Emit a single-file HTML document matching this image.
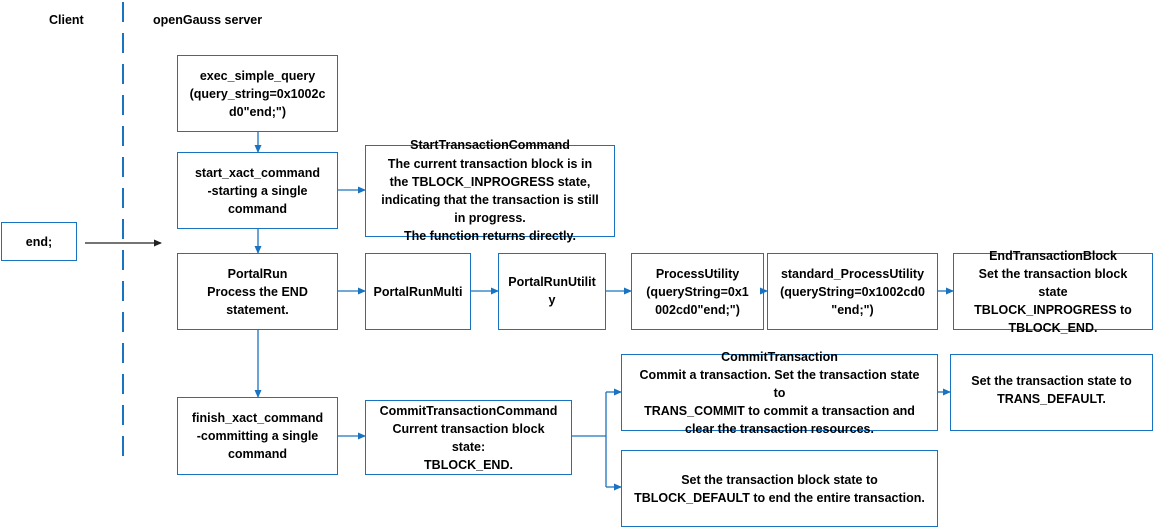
<!DOCTYPE html>
<html><head><meta charset="utf-8"><style>
body{margin:0;width:1153px;height:527px;background:#fff;position:relative;overflow:hidden;font-family:"Liberation Sans",sans-serif;font-weight:bold;font-size:12.5px;color:#000}
.b{position:absolute;border:1.3px solid #1a73c0;box-sizing:border-box;display:flex;align-items:center;justify-content:center;text-align:center;line-height:18px;white-space:nowrap}
.t{position:absolute;white-space:nowrap}
svg{position:absolute;left:0;top:0}
</style></head><body>
<svg width="1153" height="527">
<defs><marker id="a" markerWidth="8" markerHeight="8" refX="7" refY="4" orient="auto" markerUnits="userSpaceOnUse"><path d="M0,0.5 L8,4 L0,7.5z" fill="#1a73c0"/></marker>
<marker id="k" markerWidth="8" markerHeight="8" refX="7" refY="4" orient="auto" markerUnits="userSpaceOnUse"><path d="M0,0.5 L8,4 L0,7.5z" fill="#222"/></marker></defs>
<line x1="123" y1="2" x2="123" y2="456" stroke="#1a73c0" stroke-width="2" stroke-dasharray="20,11"/>
<line x1="85" y1="243" x2="161" y2="243" stroke="#222" stroke-width="1.2" marker-end="url(#k)"/>
<g stroke="#1a73c0" stroke-width="1.3" fill="none">
<line x1="258" y1="131" x2="258" y2="152" marker-end="url(#a)"/>
<line x1="258" y1="228" x2="258" y2="253" marker-end="url(#a)"/>
<line x1="258" y1="329" x2="258" y2="397" marker-end="url(#a)"/>
<line x1="337" y1="190" x2="365" y2="190" marker-end="url(#a)"/>
<line x1="337" y1="291" x2="365" y2="291" marker-end="url(#a)"/>
<line x1="470" y1="291" x2="498" y2="291" marker-end="url(#a)"/>
<line x1="605" y1="291" x2="631" y2="291" marker-end="url(#a)"/>
<line x1="763" y1="291" x2="767" y2="291" marker-end="url(#a)"/>
<line x1="937" y1="291" x2="953" y2="291" marker-end="url(#a)"/>
<line x1="337" y1="436" x2="365" y2="436" marker-end="url(#a)"/>
<polyline points="571,436 606,436"/>
<polyline points="606,392 606,487"/>
<line x1="606" y1="392" x2="621" y2="392" marker-end="url(#a)"/>
<line x1="606" y1="487" x2="621" y2="487" marker-end="url(#a)"/>
<line x1="937" y1="392" x2="950" y2="392" marker-end="url(#a)"/>
</g></svg>
<div class="t" style="left:49px;top:13px">Client</div>
<div class="t" style="left:153px;top:13px">openGauss server</div>
<div class="b" style="left:1px;top:222px;width:76px;height:39px">end;</div>
<div class="b" style="left:177px;top:55px;width:161px;height:77px">exec_simple_query<br>(query_string=0x1002c<br>d0"end;")</div>
<div class="b" style="left:177px;top:152px;width:161px;height:77px">start_xact_command<br>-starting a single<br>command</div>
<div class="b" style="left:365px;top:145px;width:250px;height:92px;line-height:18.2px">StartTransactionCommand<br>The current transaction block is in<br>the TBLOCK_INPROGRESS state,<br>indicating that the transaction is still<br>in progress.<br>The function returns directly.</div>
<div class="b" style="left:177px;top:253px;width:161px;height:77px">PortalRun<br>Process the END<br>statement.</div>
<div class="b" style="left:365px;top:253px;width:106px;height:77px">PortalRunMulti</div>
<div class="b" style="left:498px;top:253px;width:108px;height:77px;padding-bottom:2px">PortalRunUtilit<br>y</div>
<div class="b" style="left:631px;top:253px;width:133px;height:77px">ProcessUtility<br>(queryString=0x1<br>002cd0"end;")</div>
<div class="b" style="left:767px;top:253px;width:171px;height:77px">standard_ProcessUtility<br>(queryString=0x1002cd0<br>"end;")</div>
<div class="b" style="left:953px;top:253px;width:200px;height:77px">EndTransactionBlock<br>Set the transaction block<br>state<br>TBLOCK_INPROGRESS to<br>TBLOCK_END.</div>
<div class="b" style="left:177px;top:397px;width:161px;height:78px">finish_xact_command<br>-committing a single<br>command</div>
<div class="b" style="left:365px;top:400px;width:207px;height:75px">CommitTransactionCommand<br>Current transaction block<br>state:<br>TBLOCK_END.</div>
<div class="b" style="left:621px;top:354px;width:317px;height:77px">CommitTransaction<br>Commit a transaction. Set the transaction state<br>to<br>TRANS_COMMIT to commit a transaction and<br>clear the transaction resources.</div>
<div class="b" style="left:950px;top:354px;width:203px;height:77px;padding-bottom:6px">Set the transaction state to<br>TRANS_DEFAULT.</div>
<div class="b" style="left:621px;top:450px;width:317px;height:77px">Set the transaction block state to<br>TBLOCK_DEFAULT to end the entire transaction.</div>
</body></html>
